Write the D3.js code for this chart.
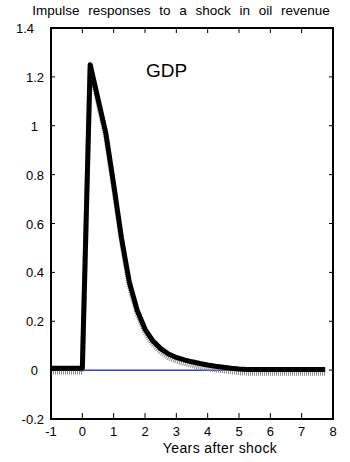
<!DOCTYPE html>
<html>
<head>
<meta charset="utf-8">
<script src="https://cdn.jsdelivr.net/npm/d3@7"></script>
<style>
	body{margin:0;background:#fff;}
	text{font-family:"Liberation Sans",Arial,sans-serif;fill:#000;}
</style>
</head>
<body>
<svg id="chart" width="350" height="462"></svg>
<script>
// quarterly horizon, years after shock
var years = d3.range(-1, 8, 0.25);
// GDP impulse response (thick black)
var gdpResponse = [0.008,0.008,0.008,0.008,0.008,
	1.25,1.11,0.97,0.76,0.54,0.36,0.245,0.168,0.12,0.088,0.066,0.052,0.042,0.034,0.027,
	0.021,0.016,0.012,0.008,0.005,
	0.003,0.003,0.003,0.003,0.003,0.003,0.003,0.003,0.003,0.003,0.003];
// second (grey, hatched) response sitting just under the black one
var gdpAlt = [-0.008,-0.008,-0.008,-0.008,-0.008,
	1.235,1.095,0.955,0.745,0.525,0.345,0.23,0.153,0.105,0.073,0.051,0.037,0.027,0.019,0.012,
	0.006,0.001,-0.003,-0.007,-0.01,
	-0.012,-0.013,-0.013,-0.013,-0.013,-0.013,-0.013,-0.013,-0.013,-0.013,-0.013];
var xTicks = [-1,0,1,2,3,4,5,6,7,8];
var yTicks = [-0.2,0,0.2,0.4,0.6,0.8,1,1.2,1.4];

var svg = d3.select("#chart");
var x = d3.scaleLinear().domain([-1,8]).range([51,333]);
var y = d3.scaleLinear().domain([-0.2,1.4]).range([419,28]);

var pts = years.map(function(d,i){ return {x:d, a:gdpResponse[i], b:gdpAlt[i]}; });

// zero line
svg.append("line")
	.attr("x1", x(-1)).attr("x2", x(7.75))
	.attr("y1", y(0)).attr("y2", y(0))
	.attr("stroke", "#3a3ad6")
	.attr("stroke-width", 1.5);

var lineB = d3.line().x(function(d){return x(d.x);}).y(function(d){return y(d.b);});
var lineA = d3.line().x(function(d){return x(d.x);}).y(function(d){return y(d.a);});

svg.append("path")
	.attr("d", lineB(pts))
	.attr("fill", "none")
	.attr("stroke", "#8a8a8a")
	.attr("stroke-width", 5)
	.attr("stroke-dasharray", "1,1");

svg.append("path")
	.attr("d", lineA(pts))
	.attr("fill", "none")
	.attr("stroke", "#000")
	.attr("stroke-width", 5)
	.attr("stroke-linejoin", "round");

// frame + inward ticks (top/bottom, left/right)
svg.append("rect")
	.attr("x", 51).attr("y", 28)
	.attr("width", 282).attr("height", 391)
	.attr("fill", "none")
	.attr("stroke", "#000")
	.attr("stroke-width", 2);

var xt = xTicks.slice(1, -1);
svg.selectAll(".xtb").data(xt).enter().append("line")
	.attr("x1", function(d){return x(d);}).attr("x2", function(d){return x(d);})
	.attr("y1", 419).attr("y2", 413)
	.attr("stroke", "#000");
svg.selectAll(".xtt").data(xt).enter().append("line")
	.attr("x1", function(d){return x(d);}).attr("x2", function(d){return x(d);})
	.attr("y1", 28).attr("y2", 33)
	.attr("stroke", "#000");
var yt = yTicks.slice(1, -1);
svg.selectAll(".ytl").data(yt).enter().append("line")
	.attr("x1", 51).attr("x2", 55)
	.attr("y1", function(d){return y(d);}).attr("y2", function(d){return y(d);})
	.attr("stroke", "#000");
svg.selectAll(".ytr").data(yt).enter().append("line")
	.attr("x1", 333).attr("x2", 329)
	.attr("y1", function(d){return y(d);}).attr("y2", function(d){return y(d);})
	.attr("stroke", "#000");

svg.selectAll(".xl").data(xTicks).enter().append("text")
	.attr("x", function(d){return x(d);})
	.attr("y", 436)
	.attr("text-anchor", "middle")
	.attr("font-size", 13)
	.text(function(d){return d;});

svg.selectAll(".yl").data(yTicks).enter().append("text")
	.attr("x", function(d){ return d == 1.4 ? 34 : (Number.isInteger(d) ? 38 : 44); })
	.attr("y", function(d){return y(d) + 5;})
	.attr("text-anchor", "end")
	.attr("font-size", 13)
	.text(function(d){return d;});

svg.append("text")
	.attr("x", 181).attr("y", 15)
	.attr("text-anchor", "middle")
	.attr("font-size", 13.5)
	.attr("word-spacing", 5)
	.text("Impulse responses to a shock in oil revenue");

svg.append("text")
	.attr("x", 220).attr("y", 453)
	.attr("text-anchor", "middle")
	.attr("font-size", 14)
	.attr("letter-spacing", 0.4)
	.text("Years after shock");

svg.append("text")
	.attr("x", 146).attr("y", 77)
	.attr("font-size", 19)
	.text("GDP");
</script>
</body>
</html>
